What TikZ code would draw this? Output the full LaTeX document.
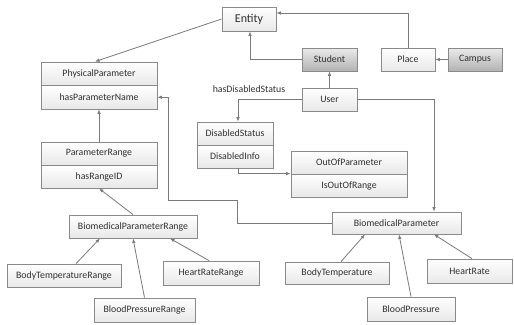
\documentclass[tikz,border=0pt]{standalone}
\usepackage{fontspec}
\setmainfont{Carlito}
\usetikzlibrary{arrows.meta}
\definecolor{linegray}{HTML}{7A7A7A}
\definecolor{boxline}{HTML}{8A8A8A}
\definecolor{txt}{HTML}{303030}
\tikzset{
  box/.style={draw=boxline, line width=0.8pt, rectangle, inner sep=0pt,
    top color=white, bottom color=black!9, text=txt,
    font=\fontsize{9.8}{11}\selectfont},
  darkbox/.style={box, top color=black!8, bottom color=black!30},
  conn/.style={draw=linegray, line width=0.8pt},
  arr/.style={conn, -{Latex[length=4.5pt,width=3.6pt]}},
}
\begin{document}
\begin{tikzpicture}[x=1pt,y=-1pt]
\useasboundingbox (0,0) rectangle (514,324);

% top row
\node[box, minimum width=54pt, minimum height=24pt,
  font=\fontsize{12}{14}\selectfont] (entity) at (249,19) {Entity};
\node[darkbox, minimum width=55pt, minimum height=23pt] (student) at (329.5,59.5) {Student};
\node[box, minimum width=54pt, minimum height=23pt] (place) at (408,59.5) {Place};
\node[darkbox, minimum width=54pt, minimum height=23pt] (campus) at (475,59.5) {Campus};
\node[box, minimum width=55pt, minimum height=23pt] (user) at (329.5,99.5) {User};
\node[text=txt, font=\fontsize{9.8}{11}\selectfont] (hds) at (249,89) {hasDisabledStatus};

% two-part class boxes
\node[box, minimum width=116pt, minimum height=23.5pt] (pp) at (99,73.75) {PhysicalParameter};
\node[box, minimum width=116pt, minimum height=23.5pt] (ppn) at (99,97.25) {hasParameterName};
\node[box, minimum width=116pt, minimum height=23pt] (pr) at (99,153.5) {ParameterRange};
\node[box, minimum width=116pt, minimum height=23pt] (prid) at (99,176.5) {hasRangeID};
\node[box, minimum width=76pt, minimum height=23pt] (ds) at (235,133.5) {DisabledStatus};
\node[box, minimum width=76pt, minimum height=23pt] (di) at (235,156.5) {DisabledInfo};
\node[box, minimum width=116pt, minimum height=23pt] (oop) at (349,162.5) {OutOfParameter};
\node[box, minimum width=116pt, minimum height=23pt] (ioor) at (349,185.5) {IsOutOfRange};

% biomedical parameters
\node[box, minimum width=129pt, minimum height=22pt] (bp) at (396.5,223) {BiomedicalParameter};
\node[box, minimum width=104pt, minimum height=22pt] (bt) at (337,273) {BodyTemperature};
\node[box, minimum width=88pt, minimum height=24pt] (bpress) at (411,309) {BloodPressure};
\node[box, minimum width=85pt, minimum height=24pt] (hr) at (469.5,271) {HeartRate};

% biomedical parameter ranges
\node[box, minimum width=128pt, minimum height=23pt] (bmpr) at (133,226.5) {BiomedicalParameterRange};
\node[box, minimum width=114pt, minimum height=23pt] (btr) at (64,275.5) {BodyTemperatureRange};
\node[box, minimum width=101pt, minimum height=24pt] (bprr) at (144.5,310) {BloodPressureRange};
\node[box, minimum width=96pt, minimum height=24pt] (hrr) at (211,273) {HeartRateRange};

% routing points
\coordinate (r1) at (237,200);
\coordinate (r2) at (168,97.25);

% connectors
\draw[arr] (entity.west) -- ([xshift=-4pt]pp.north);
\draw[arr] (place.north) |- ([yshift=6pt]entity.east);
\draw[arr] (student.west) -| ([xshift=1pt]entity.south);
\draw[arr] (campus.west) -- (place.east);
\draw[arr] (user.north) -- (student.south);
\draw[arr] (user.west) -| ([xshift=3pt]ds.north);
\draw[arr] (user.east) -| ([xshift=37.5pt]bp.north);
\draw[arr] ([xshift=3pt]di.south) |- (ioor.north west);
\draw[arr] (bp.west) -| (r1) -| (r2) -- (ppn.east);
\draw[arr] (pr.north) -- (ppn.south);
\draw[arr] (bmpr.north) -- (prid.south);
\draw[arr] ([xshift=12pt]btr.north) -- ([xshift=-33pt]bmpr.south);
\draw[arr] (bprr.north) -- (bmpr.south);
\draw[arr] ([xshift=-2pt]hrr.north) -- ([xshift=37pt]bmpr.south);
\draw[arr] ([xshift=4pt]bt.north) -- ([xshift=-31.5pt]bp.south);
\draw[arr] (bpress.north) -- ([xshift=2.5pt]bp.south);
\draw[arr] ([xshift=2.5pt]hr.north) -- ([xshift=37.5pt]bp.south);
\end{tikzpicture}
\end{document}
